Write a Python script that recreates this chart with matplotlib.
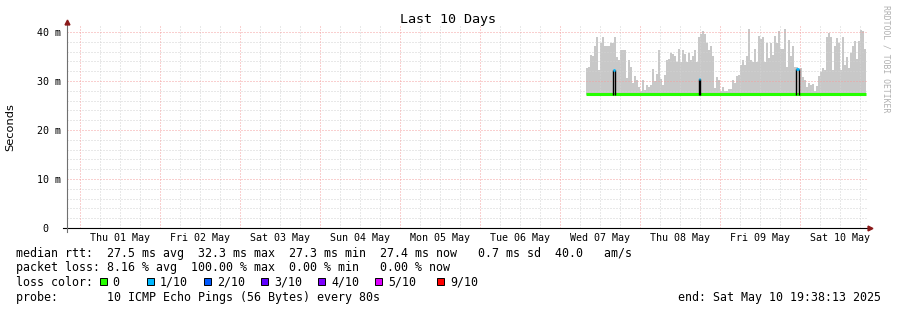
import numpy as np
import matplotlib
matplotlib.use("Agg")
import matplotlib.pyplot as plt
import matplotlib.dates as mdates
from matplotlib.patches import Rectangle

# Данни (отчетени от картинката)
smoke_start = np.datetime64("2025-05-07T07:48")
smoke_step = np.timedelta64(36, "m")
smoke_top = [32.6, 32.8, 35.3, 35.0, 37.2, 39.0, 32.3, 37.8, 39.0, 37.1,
             37.1, 37.1, 37.8, 37.8, 39.0, 34.8, 34.2, 36.4, 36.3, 36.3,
             30.6, 34.2, 32.8, 29.6, 31.0, 30.3, 28.7, 28.0, 30.3, 28.1,
             29.2, 28.7, 29.2, 32.4, 29.9, 31.4, 36.3, 30.4, 29.2, 31.3,
             34.2, 34.5, 35.8, 35.5, 35.2, 33.8, 36.5, 33.8, 36.3, 35.5,
             33.8, 35.8, 34.2, 35.2, 36.3, 33.8, 39.0, 39.6, 40.3, 39.6,
             37.8, 36.3, 37.1, 35.2, 28.5, 30.9, 30.3, 28.0, 28.7, 28.0,
             28.0, 28.3, 28.4, 30.1, 29.5, 31.0, 31.2, 33.3, 34.2, 33.3,
             35.2, 40.7, 34.2, 33.8, 36.6, 33.8, 39.2, 38.5, 38.9, 33.8,
             37.8, 34.6, 37.8, 35.3, 39.2, 37.8, 40.3, 36.5, 36.5, 40.7,
             32.8, 38.4, 35.0, 37.1, 32.8, 32.8, 32.3, 32.6, 30.9, 30.3,
             28.7, 29.5, 29.2, 29.4, 28.0, 29.0, 31.0, 31.9, 32.6, 32.3,
             39.0, 39.7, 39.0, 32.3, 37.1, 38.7, 37.8, 32.3, 39.0, 33.3,
             34.8, 32.6, 35.8, 37.1, 38.2, 34.5, 38.2, 40.4, 40.2, 36.6]
smoke_floor = 27.2
median_rtt = 27.4

spike_start = ["2025-05-07T15:58", "2025-05-08T17:46", "2025-05-09T22:57"]
spike_end = ["2025-05-07T16:34", "2025-05-08T18:09", "2025-05-09T23:38"]
spike_top = [32.2, 30.5, 32.4]

x_from = "2025-04-30T20:06"
x_to = "2025-05-10T20:06"
day_labels = ["Thu 01 May", "Fri 02 May", "Sat 03 May", "Sun 04 May", "Mon 05 May",
              "Tue 06 May", "Wed 07 May", "Thu 08 May", "Fri 09 May", "Sat 10 May"]
y_ticks = [0, 10, 20, 30, 40]
y_labels = ["0  ", "10 m", "20 m", "30 m", "40 m"]

loss_labels = ["0", "1/10", "2/10", "3/10", "4/10", "5/10", "9/10"]
loss_colors = ["#26ff00", "#00b8ff", "#0059ff", "#5e00ff", "#7e00ff", "#dd00ff", "#ff0000"]

row_rtt = "median rtt:  27.5 ms avg  32.3 ms max  27.3 ms min  27.4 ms now   0.7 ms sd  40.0   am/s"
row_loss = "packet loss: 8.16 % avg  100.00 % max  0.00 % min   0.00 % now"
row_probe = "probe:       10 ICMP Echo Pings (56 Bytes) every 80s"
end_text = "end: Sat May 10 19:38:13 2025"

# Графика
W, H = 897, 310
MONO = "DejaVu Sans Mono"


def fx(px):
    return px / W


def fy(py):
    return 1 - py / H


fig = plt.figure(figsize=(W / 100, H / 100), dpi=100)
ax = fig.add_axes([fx(67), fy(228), 800 / W, 202 / H])
ax.set_xlim(mdates.date2num(np.datetime64(x_from)), mdates.date2num(np.datetime64(x_to)))
ax.set_ylim(0, 41.22)

# мрежа
days = np.arange(np.datetime64("2025-05-01T00"), np.datetime64("2025-05-11T00"), np.timedelta64(1, "D"))
quarters = np.arange(np.datetime64("2025-04-30T06"), np.datetime64("2025-05-10T20"), np.timedelta64(6, "h"))
dots = (0, (1, 2))
for q in quarters:
    if q.astype("datetime64[h]").astype(int) % 24 != 0:
        ax.axvline(mdates.date2num(q), color="#d2d2d2", lw=0.72, ls=dots, zorder=2)
for v in np.arange(2, 42, 2):
    if v % 10:
        ax.axhline(v, color="#d2d2d2", lw=0.72, ls=dots, zorder=2)
for d in days:
    ax.axvline(mdates.date2num(d), color="#f4a0a0", lw=0.72, ls=dots, zorder=2)
for v in [10, 20, 30, 40]:
    ax.axhline(v, color="#f4a0a0", lw=0.72, ls=dots, zorder=2)

# дим и медиана
t = mdates.date2num(smoke_start + np.arange(len(smoke_top) + 1) * smoke_step)
ax.fill_between(t, smoke_floor, smoke_top + [smoke_top[-1]], step="post",
                color="#c8c8c8", lw=0, zorder=1)
ax.plot([t[0], t[-1]], [median_rtt, median_rtt], color=loss_colors[0], lw=2.2,
        solid_capstyle="butt", zorder=4)

for s, e, top in zip(spike_start, spike_end, spike_top):
    s = mdates.date2num(np.datetime64(s))
    e = mdates.date2num(np.datetime64(e))
    ax.vlines([s, e], median_rtt - 0.3, top, color="black", lw=1, zorder=5)
    ax.plot([s, e], [top, top], color=loss_colors[1], lw=2, solid_capstyle="butt", zorder=6)

# оси
for sp in ax.spines.values():
    sp.set_visible(False)
noons = mdates.date2num(days + np.timedelta64(12, "h"))
ax.set_xticks(noons)
ax.set_xticklabels(day_labels, family=MONO, fontsize=7.2)
ax.set_yticks(y_ticks)
ax.set_yticklabels(y_labels, family=MONO, fontsize=7.2)
ax.tick_params(axis="x", length=0, pad=3.5)
ax.tick_params(axis="y", length=0, pad=4.5)
ax.plot([-4 / 800, 803 / 800], [0, 0], transform=ax.transAxes, color="black", lw=0.8, clip_on=False, zorder=7)
ax.plot([0, 0], [-4 / 202, 1.015], transform=ax.transAxes, color="#707070", lw=0.8, clip_on=False, zorder=7)
ax.plot(1.004, 0, marker=">", ms=3.5, color="#8b1a1a", transform=ax.transAxes, clip_on=False, zorder=8)
ax.plot(0, 1.02, marker="^", ms=3.5, color="#8b1a1a", transform=ax.transAxes, clip_on=False, zorder=8)

# текстове
fig.text(fx(448), fy(20), "Last 10 Days", ha="center", va="center", family=MONO, fontsize=9.6)
fig.text(fx(10), fy(127), "Seconds", rotation=90, ha="center", va="center", fontsize=8.2)
fig.text(fx(886), fy(59), "RRDTOOL / TOBI OETIKER", rotation=270, ha="center", va="center",
         family=MONO, fontsize=5.9, color="#b0b0b0")

fs = 8.37
fig.text(fx(16), fy(254), row_rtt, ha="left", va="center", family=MONO, fontsize=fs)
fig.text(fx(16), fy(268), row_loss, ha="left", va="center", family=MONO, fontsize=fs)
fig.text(fx(16), fy(282), "loss color:", ha="left", va="center", family=MONO, fontsize=fs)
fig.text(fx(16), fy(297), row_probe, ha="left", va="center", family=MONO, fontsize=fs)
fig.text(fx(881), fy(297), end_text, ha="right", va="center", family=MONO, fontsize=fs)

swatch_px = [99.5, 147, 204, 261, 318, 375, 437]
for px, lab, col in zip(swatch_px, loss_labels, loss_colors):
    fig.add_artist(Rectangle((fx(px), fy(285)), 7 / W, 7 / H, transform=fig.transFigure,
                             facecolor=col, edgecolor="black", lw=0.7))
    fig.text(fx(px + 13), fy(282), lab, ha="left", va="center", family=MONO, fontsize=fs)

fig.savefig("out.png", dpi=100)
